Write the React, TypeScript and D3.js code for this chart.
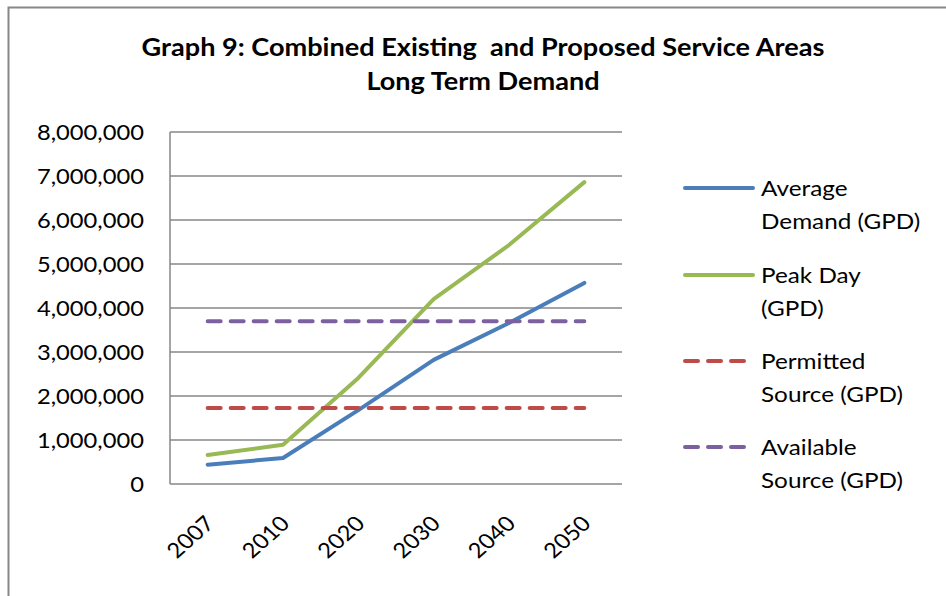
import React from "react";
import * as d3 from "d3";

const categories = ["2007", "2010", "2020", "2030", "2040", "2050"];
const averageDemand = [440000, 590000, 1680000, 2820000, 3660000, 4570000];
const peakDay = [660000, 890000, 2410000, 4200000, 5430000, 6860000];
const permittedSource = [1730000, 1730000, 1730000, 1730000, 1730000, 1730000];
const availableSource = [3700000, 3700000, 3700000, 3700000, 3700000, 3700000];
const yTicks = [0, 1000000, 2000000, 3000000, 4000000, 5000000, 6000000, 7000000, 8000000];
const titleLines = ["Graph 9: Combined Existing  and Proposed Service Areas", "Long Term Demand"];

const seriesList = [
  { name: ["Average", "Demand (GPD)"], values: averageDemand, color: "#4A7EBB", dash: null },
  { name: ["Peak Day", "(GPD)"], values: peakDay, color: "#98B954", dash: null },
  { name: ["Permitted", "Source (GPD)"], values: permittedSource, color: "#BE4B48", dash: "13,10" },
  { name: ["Available", "Source (GPD)"], values: availableSource, color: "#7D60A0", dash: "13,10" },
];

const FONT = "Lato, Carlito, Calibri, sans-serif";
const SX = 1.13;

export default function App() {
  const W = 946, H = 596;
  const left = 170, right = 622, top = 132, bottom = 484;
  const x = d3.scaleBand().domain(categories).range([left, right]);
  const y = d3.scaleLinear().domain([0, 8000000]).range([bottom, top]);
  const fmt = d3.format(",");
  const line = d3
    .line<number>()
    .x((_, i) => (x(categories[i]) as number) + x.bandwidth() / 2)
    .y((d) => y(d));

  const legendY = [188, 275, 361, 447];

  return (
    <svg width={W} height={H} style={{ position: "absolute", left: 0, top: 0, background: "#fff" }}>
      <rect x={0} y={0} width={W} height={H} fill="#fff" />
      <rect x={8.5} y={7.5} width={W + 20} height={H + 20} fill="none" stroke="#878787" strokeWidth={2} />
      {titleLines.map((t, i) => (
        <text key={i} transform={`translate(483,${56 + i * 34}) scale(${SX},1)`} textAnchor="middle" fontFamily={FONT} fontWeight="bold" fontSize={24} fill="#000" style={{ whiteSpace: "pre" }}>
          {t}
        </text>
      ))}
      {yTicks.map((t) => (
        <g key={t}>
          <line x1={left} x2={right} y1={y(t)} y2={y(t)} stroke="#878787" strokeWidth={1.5} />
          <text transform={`translate(144,${y(t) + 7.5}) scale(${SX},1)`} textAnchor="end" fontFamily={FONT} fontSize={21} fill="#000">
            {fmt(t)}
          </text>
        </g>
      ))}
      <line x1={left} x2={left} y1={top} y2={bottom} stroke="#878787" strokeWidth={1.5} />
      {categories.map((c) => {
        const cx = (x(c) as number) + x.bandwidth() / 2;
        return (
          <text key={c} transform={`translate(${cx + 8},${bottom + 41}) scale(${SX},1) rotate(-45)`} textAnchor="end" fontFamily={FONT} fontSize={21} fill="#000">
            {c}
          </text>
        );
      })}
      {seriesList.map((s, i) => (
        <path key={i} d={line(s.values) as string} fill="none" stroke={s.color} strokeWidth={4} strokeLinecap="round" strokeLinejoin="round" strokeDasharray={s.dash ?? undefined} />
      ))}
      {seriesList.map((s, i) => (
        <g key={"l" + i}>
          <line x1={685} x2={s.dash ? 746 : 753} y1={legendY[i]} y2={legendY[i]} stroke={s.color} strokeWidth={4} strokeLinecap="round" strokeDasharray={s.dash ?? undefined} />
          {s.name.map((n, j) => (
            <text key={j} transform={`translate(761,${legendY[i] + 7.5 + j * 33}) scale(${SX},1)`} fontFamily={FONT} fontSize={21.5} fill="#000">
              {n}
            </text>
          ))}
        </g>
      ))}
    </svg>
  );
}
